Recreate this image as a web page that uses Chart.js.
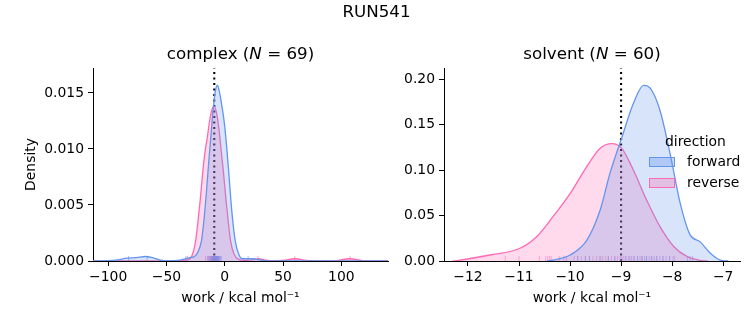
<!DOCTYPE html>
<html>
<head>
<meta charset="utf-8">
<script src="https://cdn.jsdelivr.net/npm/chart.js@4"></script>
<style>
  html, body { margin: 0; padding: 0; background: #fff; }
  #wrap { position: relative; width: 753px; height: 325px; font-family: 'DejaVu Sans', sans-serif; color: #000; }
  canvas { position: absolute; top: 0; }
  .txt { position: absolute; white-space: nowrap; line-height: 1; }
  .sup { font-size: 16.7px; }
  .ttl { font-size: 16.7px; text-align: center; }
  .leg { font-size: 13.9px; }
  .patch { position: absolute; width: 26px; height: 10px; box-sizing: border-box; }
</style>
</head>
<body>
<div id="wrap">
  <canvas id="c1" width="400" height="325" style="left:0;width:400px;height:325px"></canvas>
  <canvas id="c2" width="353" height="325" style="left:400px;width:353px;height:325px"></canvas>
  <div class="txt sup" style="left:0;width:753px;text-align:center;top:3px">RUN541</div>
  <div class="txt ttl" style="left:93px;width:295px;top:45px">complex (<i>N</i> = 69)</div>
  <div class="txt ttl" style="left:444px;width:296px;top:45px">solvent (<i>N</i> = 60)</div>
  <div class="txt leg" style="left:665px;top:135px">direction</div>
  <div class="patch" style="left:649px;top:157px;background:rgba(100,149,237,0.35);border:1px solid rgb(100,149,237)"></div>
  <div class="txt leg" style="left:687px;top:155px">forward</div>
  <div class="patch" style="left:649px;top:178px;background:rgba(255,105,180,0.3);border:1px solid rgb(255,105,180)"></div>
  <div class="txt leg" style="left:687px;top:176px">reverse</div>
</div>
<script>
// complex: KDE curves
const complexFwdX = [-113, -100, -92, -84, -76, -68, -62, -56, -48, -40, -34, -30, -26, -23, -20, -18, -16, -14, -12, -10, -8, -6.3, -5, -3, 0, 3, 6, 9, 12, 15, 20, 24, 30, 36, 42, 140];
const complexFwdY = [0, 0.00003, 0.0001, 0.00025, 0.0003, 0.0004, 0.0003, 0.0001, 0.00002, 0.00005, 0.0002, 0.0003, 0.0004, 0.0008, 0.0018, 0.0035, 0.0058, 0.0085, 0.011, 0.0135, 0.0152, 0.0157, 0.0153, 0.0142, 0.012, 0.0085, 0.0045, 0.0018, 0.0006, 0.0002, 0.0002, 0.0002, 0.0001, 0.00002, 0, 0];
const complexRevX = [-113, -40, -32, -29, -27, -25, -23, -21, -19, -17, -15, -13, -11, -9.2, -7, -5, -3, -1, 1, 3, 5, 8, 12, 18, 24, 29, 34, 42, 50, 60, 70, 80, 95, 107, 118, 126, 140];
const complexRevY = [0, 0, 0.0001, 0.0003, 0.0008, 0.0018, 0.0035, 0.0055, 0.0078, 0.0097, 0.011, 0.0125, 0.0135, 0.0138, 0.0132, 0.0118, 0.0098, 0.0078, 0.0055, 0.0035, 0.0018, 0.0006, 0.00015, 0.00005, 0.0001, 0.0002, 0.0001, 0.00002, 0.00005, 0.0002, 0.00005, 0, 0.00003, 0.0002, 0.00003, 0, 0];
// complex: individual work values (rug)
const complexFwdWork = [-82.5, -66.5, -33.5, -14.2, -12.8, -11.9, -11.2, -10.6, -10.1, -9.7, -9.3, -8.9, -8.5, -8.2, -7.8, -7.5, -7.2, -6.9, -6.6, -6.3, -6.0, -5.7, -5.3, -4.9, -4.4, -3.8, -3.0, 20.0];
const complexRevWork = [-32.0, -16.5, -14.8, -13.6, -12.7, -12.0, -11.4, -10.9, -10.5, -10.1, -9.8, -9.5, -9.2, -8.9, -8.6, -8.2, -7.8, -7.3, -6.7, -5.9, 28.5, 60.0, 107.5];

// solvent: KDE curves
const solventFwdX = [-10.45, -10.33, -10.0, -9.67, -9.41, -9.22, -8.99, -8.76, -8.56, -8.43, -8.24, -8.04, -7.84, -7.65, -7.45, -7.25, -7.06, -6.9];
const solventFwdY = [0, 0.001, 0.0066, 0.023, 0.056, 0.096, 0.135, 0.173, 0.193, 0.19, 0.166, 0.118, 0.063, 0.029, 0.021, 0.0085, 0.001, 0];
const solventRevX = [-12.3, -12.22, -11.57, -10.98, -10.65, -10.33, -10.0, -9.67, -9.41, -9.18, -8.99, -8.76, -8.5, -8.24, -7.97, -7.71, -7.45, -7.3];
const solventRevY = [0, 0.0005, 0.0066, 0.014, 0.027, 0.049, 0.074, 0.104, 0.124, 0.129, 0.124, 0.1, 0.067, 0.038, 0.016, 0.005, 0.0008, 0];
const solventFwdWork = [-9.85, -9.7, -9.62, -9.4, -9.25, -9.12, -9.0, -8.92, -8.85, -8.8, -8.74, -8.68, -8.63, -8.58, -8.54, -8.5, -8.45, -8.4, -8.35, -8.3, -8.24, -8.18, -8.12, -8.05, -7.98, -7.7, -7.65, -7.6];
const solventRevWork = [-11.27, -11.0, -10.6, -10.48, -10.44, -10.4, -10.37, -10.21, -10.12, -10.07, -9.92, -9.85, -9.78, -9.7, -9.62, -9.55, -9.48, -9.42, -9.36, -9.3, -9.25, -9.19, -9.13, -9.07, -9.02, -8.96, -8.9, -8.83, -8.76, -8.68, -8.6, -8.5, -8.4, -8.3, -8.18, -8.05, -7.95];

// free energy estimate (dotted line)
const complexDG = -9.0;
const solventDG = -9.0;

// ticks
const complexXTicks = [-100, -50, 0, 50, 100];
const complexYTicks = [0, 0.005, 0.010, 0.015];
const solventXTicks = [-12, -11, -10, -9, -8, -7];
const solventYTicks = [0, 0.05, 0.10, 0.15, 0.20];

const BLUE = 'rgb(100,149,237)';
const PINK = 'rgb(255,105,180)';
const FONT = { family: 'DejaVu Sans', size: 13.9 };

function pts(xs, ys) { return xs.map((x, i) => ({ x: x, y: ys[i] })); }
function minus(s) { return String(s).replace('-', '\u2212'); }

function kde(xs, ys, color, fill) {
  return {
    type: 'line', data: pts(xs, ys), borderColor: color, backgroundColor: fill,
    borderWidth: 1.3, pointRadius: 0, fill: 'origin', cubicInterpolationMode: 'monotone'
  };
}
function rug(values, color) {
  return {
    type: 'scatter', data: values.map(v => ({ x: v, y: 0 })), pointStyle: 'line', rotation: 90,
    pointRadius: 5, borderColor: color, borderWidth: 1, clip: 0, showLine: false
  };
}
function vline(x, top) {
  return {
    type: 'line', data: [{ x: x, y: 0 }, { x: x, y: top }], borderColor: '#000',
    borderWidth: 2.1, borderDash: [2.1, 3.4], pointRadius: 0, fill: false
  };
}

function makeChart(id, cfg) {
  new Chart(document.getElementById(id), {
    type: 'line',
    data: { datasets: cfg.datasets },
    options: {
      responsive: false, animation: false, events: [],
      layout: { padding: { top: 68, right: cfg.padRight, bottom: 0, left: 0 } },
      plugins: { legend: { display: false }, tooltip: { enabled: false } },
      scales: {
        x: {
          type: 'linear', min: cfg.xMin, max: cfg.xMax,
          afterBuildTicks: s => { s.ticks = cfg.xTicks.map(v => ({ value: v })); },
          afterFit: s => { s.height = 64; },
          ticks: { color: '#000', font: FONT, padding: 3, maxRotation: 0, callback: v => minus(v) },
          grid: { drawOnChartArea: false, drawTicks: true, tickLength: 5, color: '#000' },
          border: { display: true, color: '#000', width: 1 },
          title: { display: true, text: 'work / kcal mol\u207B\u00B9', color: '#000', font: FONT, padding: { top: 0, bottom: 18 } }
        },
        y: {
          type: 'linear', min: 0, max: cfg.yMax,
          afterBuildTicks: s => { s.ticks = cfg.yTicks.map(v => ({ value: v })); },
          afterFit: s => { s.width = cfg.yWidth; },
          ticks: { color: '#000', font: FONT, padding: 4, callback: v => v.toFixed(cfg.digits) },
          grid: { drawOnChartArea: false, drawTicks: true, tickLength: 5, color: '#000' },
          border: { display: true, color: '#000', width: 1 },
          title: { display: cfg.yTitle, text: 'Density', color: '#000', font: FONT, padding: { top: 23, bottom: 0 } }
        }
      }
    }
  });
}

makeChart('c1', {
  xMin: -113, xMax: 140, yMax: 0.01723, xTicks: complexXTicks, yTicks: complexYTicks,
  digits: 3, yWidth: 93, padRight: 12, yTitle: true,
  datasets: [
    kde(complexFwdX, complexFwdY, BLUE, 'rgba(100,149,237,0.25)'),
    kde(complexRevX, complexRevY, PINK, 'rgba(255,105,180,0.25)'),
    rug(complexFwdWork, 'rgba(100,149,237,0.6)'),
    rug(complexRevWork, 'rgba(255,105,180,0.6)'),
    vline(complexDG, 0.01723)
  ]
});

makeChart('c2', {
  xMin: -12.47, xMax: -6.67, yMax: 0.2121, xTicks: solventXTicks, yTicks: solventYTicks,
  digits: 2, yWidth: 44, padRight: 13, yTitle: false,
  datasets: [
    kde(solventFwdX, solventFwdY, BLUE, 'rgba(100,149,237,0.25)'),
    kde(solventRevX, solventRevY, PINK, 'rgba(255,105,180,0.25)'),
    rug(solventFwdWork, 'rgba(100,149,237,0.5)'),
    rug(solventRevWork, 'rgba(255,105,180,0.5)'),
    vline(solventDG, 0.2121)
  ]
});
</script>
</body>
</html>
